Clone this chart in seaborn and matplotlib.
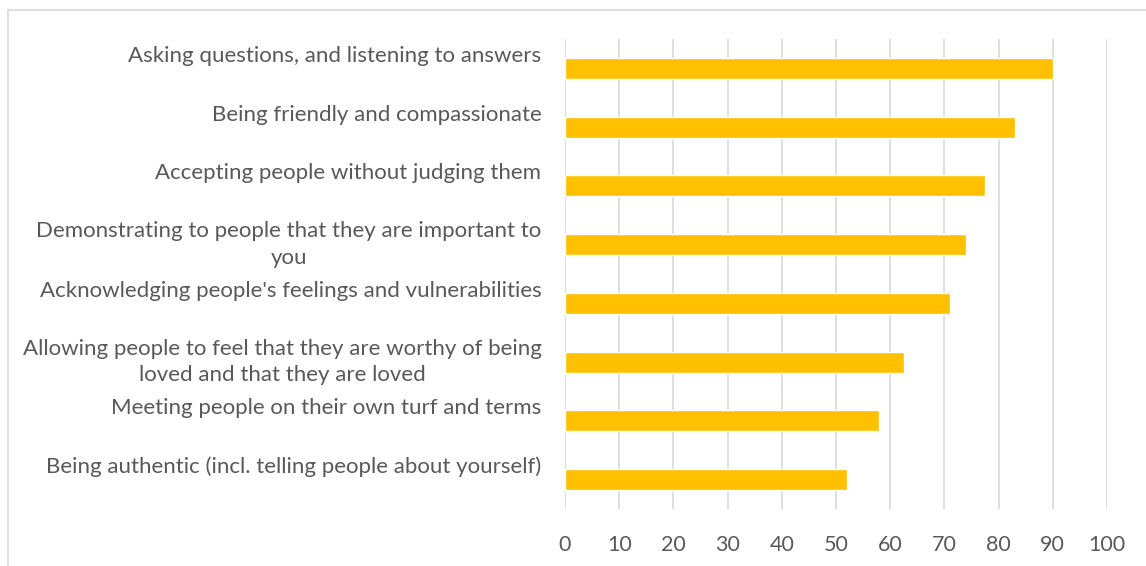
import matplotlib
matplotlib.use('Agg')
import matplotlib.pyplot as plt
import matplotlib.transforms as mtransforms
from matplotlib.patches import Rectangle
import seaborn as sns
import pandas as pd

# data
categories = ['Asking questions, and listening to answers',
              'Being friendly and compassionate',
              'Accepting people without judging them',
              'Demonstrating to people that they are important to\nyou',
              "Acknowledging people's feelings and vulnerabilities",
              'Allowing people to feel that they are worthy of being\nloved and that they are loved',
              'Meeting people on their own turf and terms',
              'Being authentic (incl. telling people about yourself)']
values = [90, 83, 77.5, 74, 71, 62.5, 58, 52]
x_ticks = [0, 10, 20, 30, 40, 50, 60, 70, 80, 90, 100]

df = pd.DataFrame({'item': categories, 'value': values})

sns.set_style('white')
plt.rcParams['font.family'] = ['Lato', 'DejaVu Sans']

fig = plt.figure(figsize=(11.46, 5.66), dpi=100)
ax = fig.add_axes([565/1146, 1-509/566, 542/1146, 470/566])

sns.barplot(data=df, x='value', y='item', orient='h', color='#FFC000',
            width=0.36, saturation=1, ax=ax)

ax.set_xlim(0, 100)
ax.set_ylim(7.5, -0.5)
ax.set_xticks(x_ticks)
ax.xaxis.grid(True, color='#D9D9D9', lw=1.2)
ax.set_axisbelow(True)
ax.tick_params(axis='x', length=0, pad=19, labelsize=15.5, labelcolor='#595959')
ax.set_xlabel('')
ax.set_ylabel('')
for s in ax.spines.values():
    s.set_visible(False)

# category labels: single-line ones sit a bit above the bar
ax.set_yticks(range(len(categories)))
ax.set_yticklabels([])
ax.tick_params(axis='y', length=0)
for i, lab in enumerate(categories):
    dy = 0 if '\n' in lab else 9
    off = mtransforms.ScaledTranslation(-17/72, dy/72, fig.dpi_scale_trans)
    ax.text(0, i, lab, transform=ax.get_yaxis_transform() + off,
            ha='right', va='center', multialignment='center',
            fontsize=16, color='#595959', linespacing=1.4)

# chart area border (cropped on right and bottom)
fig.patches.append(Rectangle((8/1146, -0.1), 1.2, 1 - 10/566 + 0.1,
                             transform=fig.transFigure, fill=False,
                             edgecolor='#D9D9D9', lw=1.2))

fig.savefig('out.png', dpi=100)
